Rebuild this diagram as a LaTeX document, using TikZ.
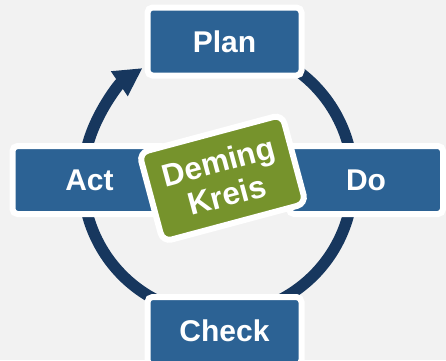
\documentclass[tikz,border=0pt]{standalone}
\usepackage{fontspec}
\setmainfont{Liberation Sans}
\usetikzlibrary{arrows.meta}
\definecolor{bgcol}{HTML}{F2F2F2}
\definecolor{boxblue}{HTML}{2C6294}
\definecolor{ringblue}{HTML}{17375E}
\definecolor{demgreen}{HTML}{76932C}
\begin{document}
\begin{tikzpicture}[x=1pt,y=1pt,
  phase/.style={draw=white, line width=6pt, fill=boxblue, rounded corners=5pt,
    minimum width=154pt, minimum height=68pt, inner sep=0pt,
    font=\bfseries\fontsize{30}{36}\selectfont, text=white},
  ring/.style={draw=ringblue, line width=11.5pt},
  center box/.style={draw=white, line width=6pt, fill=demgreen, rounded corners=9pt,
    minimum width=148pt, minimum height=92pt, inner sep=0pt, align=center,
    font=\bfseries\fontsize{31.5}{34.5}\selectfont, text=white}]
\useasboundingbox (0,0) rectangle (446,360);
\fill[bgcol] (0,0) rectangle (446,360);
\coordinate (c) at (218,180);
\draw[ring, -{Triangle[length=28pt,width=28pt]}] ([shift={(70:135)}]c) arc[start angle=70, end angle=-236, radius=135];
\node[phase] (plan) at (224.5,318.5) {Plan};
\node[phase] (do) at (366,180) {Do};
\node[phase] (act) at (89.5,180) {Act};
\node[phase] (check) at (224.5,29) {Check};
\node[center box, rotate=15] (deming) at (222.5,181.75) {Deming\\Kreis};
\end{tikzpicture}
\end{document}
